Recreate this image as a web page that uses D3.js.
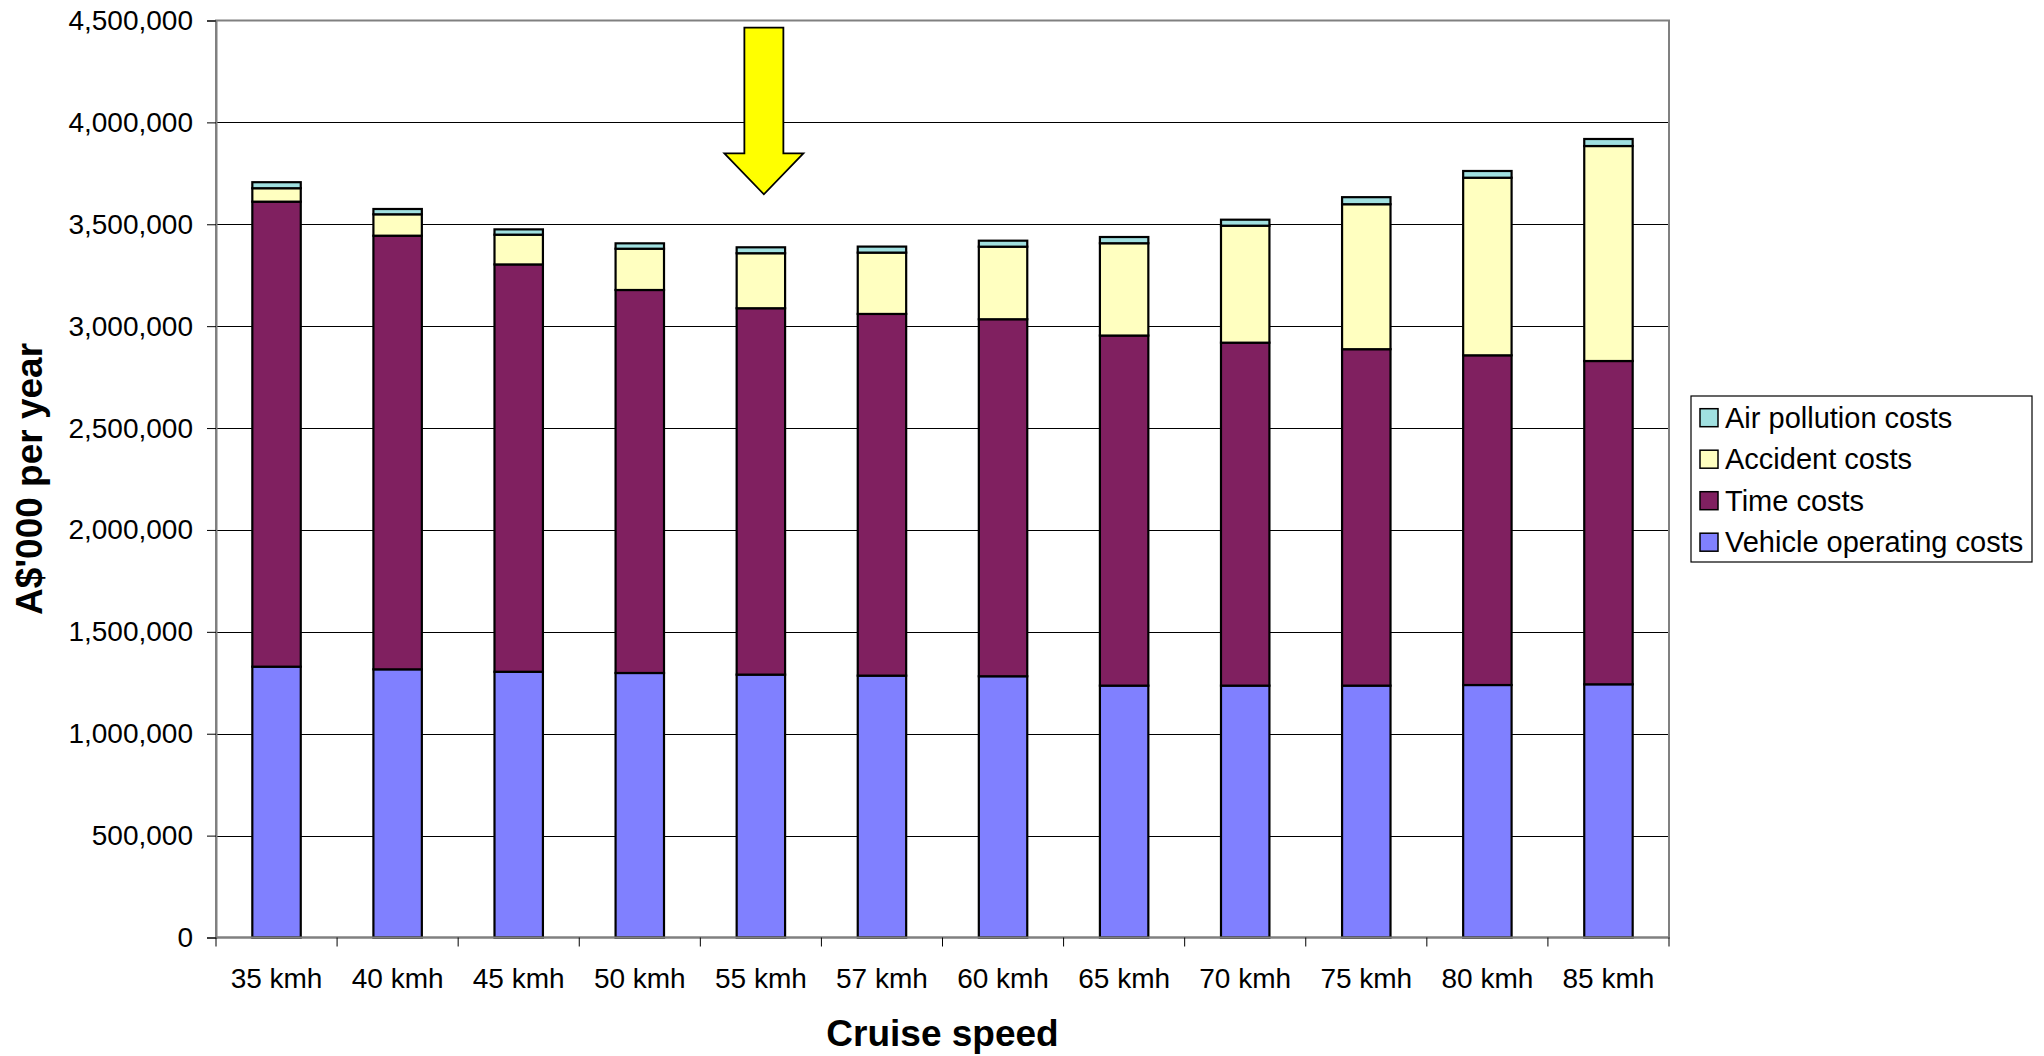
<!DOCTYPE html>
<html>
<head>
<meta charset="utf-8">
<script src="https://cdnjs.cloudflare.com/ajax/libs/d3/7.8.5/d3.min.js"></script>
<style>
  html, body { margin: 0; padding: 0; background: #ffffff; }
  svg { display: block; font-family: "Liberation Sans", Arial, sans-serif; }
</style>
</head>
<body>
<svg id="chart" width="2044" height="1056"></svg>
<script>
// ---- Data (A$'000 per year) ----
const categories = ["35 kmh","40 kmh","45 kmh","50 kmh","55 kmh","57 kmh","60 kmh","65 kmh","70 kmh","75 kmh","80 kmh","85 kmh"];
const vehicleCosts  = [1329000,1316000,1304000,1298000,1290000,1285000,1282000,1236000,1236000,1236000,1239000,1242500];
const timeCosts     = [2282000,2128000,1999000,1879500,1798000,1775000,1752000,1718000,1683000,1651000,1618000,1586500];
const accidentCosts = [66000,105000,146000,202500,270000,301000,356000,453000,574000,711500,871500,1055000];
const airCosts      = [29500,26000,26000,26500,29000,29500,29500,30500,29500,34500,33000,34500];
const seriesNames   = ["Vehicle operating costs","Time costs","Accident costs","Air pollution costs"];
const seriesColors  = ["#8080ff","#802060","#ffffc0","#a0e0e0"];
const yTickValues   = [0,500000,1000000,1500000,2000000,2500000,3000000,3500000,4000000,4500000];
const arrowCategory = "55 kmh";
const arrowValues   = {top: 4465000, head: 3848000, tip: 3647000};

// ---- Layout ----
const svg = d3.select("#chart");
const plot = {left: 216, right: 1669, top: 20.5, bottom: 937.5};

const x = d3.scaleBand().domain(categories).range([plot.left, plot.right]).paddingInner(0.6).paddingOuter(0.3);
const xEdge = d3.scaleLinear().domain([0, categories.length]).range([plot.left, plot.right]);
const y = d3.scaleLinear().domain([0, 4500000]).range([plot.bottom, plot.top]);

const rows = categories.map((c, i) => ({
  cat: c,
  "Vehicle operating costs": vehicleCosts[i],
  "Time costs": timeCosts[i],
  "Accident costs": accidentCosts[i],
  "Air pollution costs": airCosts[i]
}));
const stack = d3.stack().keys(seriesNames)(rows);
const color = d3.scaleOrdinal().domain(seriesNames).range(seriesColors);

// gridlines
svg.append("g").selectAll("line").data(yTickValues.filter(v => v > 0 && v < 4500000)).join("line")
  .attr("x1", plot.left).attr("x2", plot.right)
  .attr("y1", d => Math.round(y(d)) + 0.5).attr("y2", d => Math.round(y(d)) + 0.5)
  .attr("stroke", "#000").attr("stroke-width", 1);

// plot frame (top + right gray)
svg.append("rect")
  .attr("x", plot.left).attr("y", plot.top)
  .attr("width", plot.right - plot.left).attr("height", plot.bottom - plot.top)
  .attr("fill", "none").attr("stroke", "#808080").attr("stroke-width", 2);

// bars
svg.append("g").selectAll("g").data(stack).join("g")
  .attr("fill", d => color(d.key))
  .selectAll("rect").data(d => d).join("rect")
  .attr("x", d => x(d.data.cat))
  .attr("width", x.bandwidth())
  .attr("y", d => y(d[1]))
  .attr("height", d => y(d[0]) - y(d[1]))
  .attr("stroke", "#000").attr("stroke-width", 2.2);

// y axis
const yAxis = svg.append("g").attr("transform", `translate(${plot.left},0)`)
  .call(d3.axisLeft(y).tickValues(yTickValues).tickFormat(d3.format(",")).tickSize(9).tickPadding(14));
yAxis.select(".domain").attr("stroke", "#808080").attr("stroke-width", 2);
yAxis.selectAll(".tick line").attr("stroke", "#000");
yAxis.selectAll("text").attr("font-size", 28).attr("fill", "#000").attr("font-family", "Liberation Sans, Arial, sans-serif");

// x axis line and ticks at category edges
svg.append("line").attr("x1", plot.left).attr("x2", plot.right)
  .attr("y1", plot.bottom).attr("y2", plot.bottom)
  .attr("stroke", "#808080").attr("stroke-width", 2);
svg.append("g").selectAll("line").data(d3.range(categories.length + 1)).join("line")
  .attr("x1", d => xEdge(d)).attr("x2", d => xEdge(d))
  .attr("y1", plot.bottom).attr("y2", plot.bottom + 9)
  .attr("stroke", "#000").attr("stroke-width", 1);
svg.append("g").selectAll("text").data(categories).join("text")
  .attr("x", d => x(d) + x.bandwidth() / 2)
  .attr("y", 988)
  .attr("text-anchor", "middle")
  .attr("font-size", 28)
  .attr("fill", "#000")
  .text(d => d);

// axis titles
svg.append("text")
  .attr("transform", `translate(29,${(plot.top + plot.bottom) / 2}) rotate(-90)`)
  .attr("text-anchor", "middle").attr("dy", "0.36em")
  .attr("font-size", 37).attr("font-weight", "bold").attr("fill", "#000")
  .text("A$'000 per year");
svg.append("text")
  .attr("x", (plot.left + plot.right) / 2).attr("y", 1046)
  .attr("text-anchor", "middle")
  .attr("font-size", 37).attr("font-weight", "bold").attr("fill", "#000")
  .text("Cruise speed");

// arrow annotation
const ax = x(arrowCategory) + x.bandwidth() / 2 + 3;
const shaftHW = 19.5, headHW = 39.5;
const arrowPts = [
  [ax - shaftHW, y(arrowValues.top)], [ax + shaftHW, y(arrowValues.top)],
  [ax + shaftHW, y(arrowValues.head)], [ax + headHW, y(arrowValues.head)],
  [ax, y(arrowValues.tip)],
  [ax - headHW, y(arrowValues.head)], [ax - shaftHW, y(arrowValues.head)]
];
svg.append("path")
  .attr("d", d3.line()(arrowPts) + "Z")
  .attr("fill", "#ffff00").attr("stroke", "#000").attr("stroke-width", 1.8)
  .attr("stroke-linejoin", "miter");

// legend
const legend = svg.append("g");
legend.append("rect")
  .attr("x", 1691).attr("y", 396).attr("width", 341).attr("height", 166)
  .attr("fill", "#fff").attr("stroke", "#000").attr("stroke-width", 1.2);
const legendOrder = seriesNames.slice().reverse();
const legendRows = legend.selectAll("g.item").data(legendOrder).join("g")
  .attr("class", "item")
  .attr("transform", (d, i) => `translate(0,${417.7 + i * 41.5})`);
legendRows.append("rect")
  .attr("x", 1700).attr("y", -9).attr("width", 18).attr("height", 18)
  .attr("fill", d => color(d)).attr("stroke", "#000").attr("stroke-width", 1.5);
legendRows.append("text")
  .attr("x", 1725).attr("y", 10)
  .attr("font-size", 29).attr("fill", "#000")
  .text(d => d);
</script>
</body>
</html>
